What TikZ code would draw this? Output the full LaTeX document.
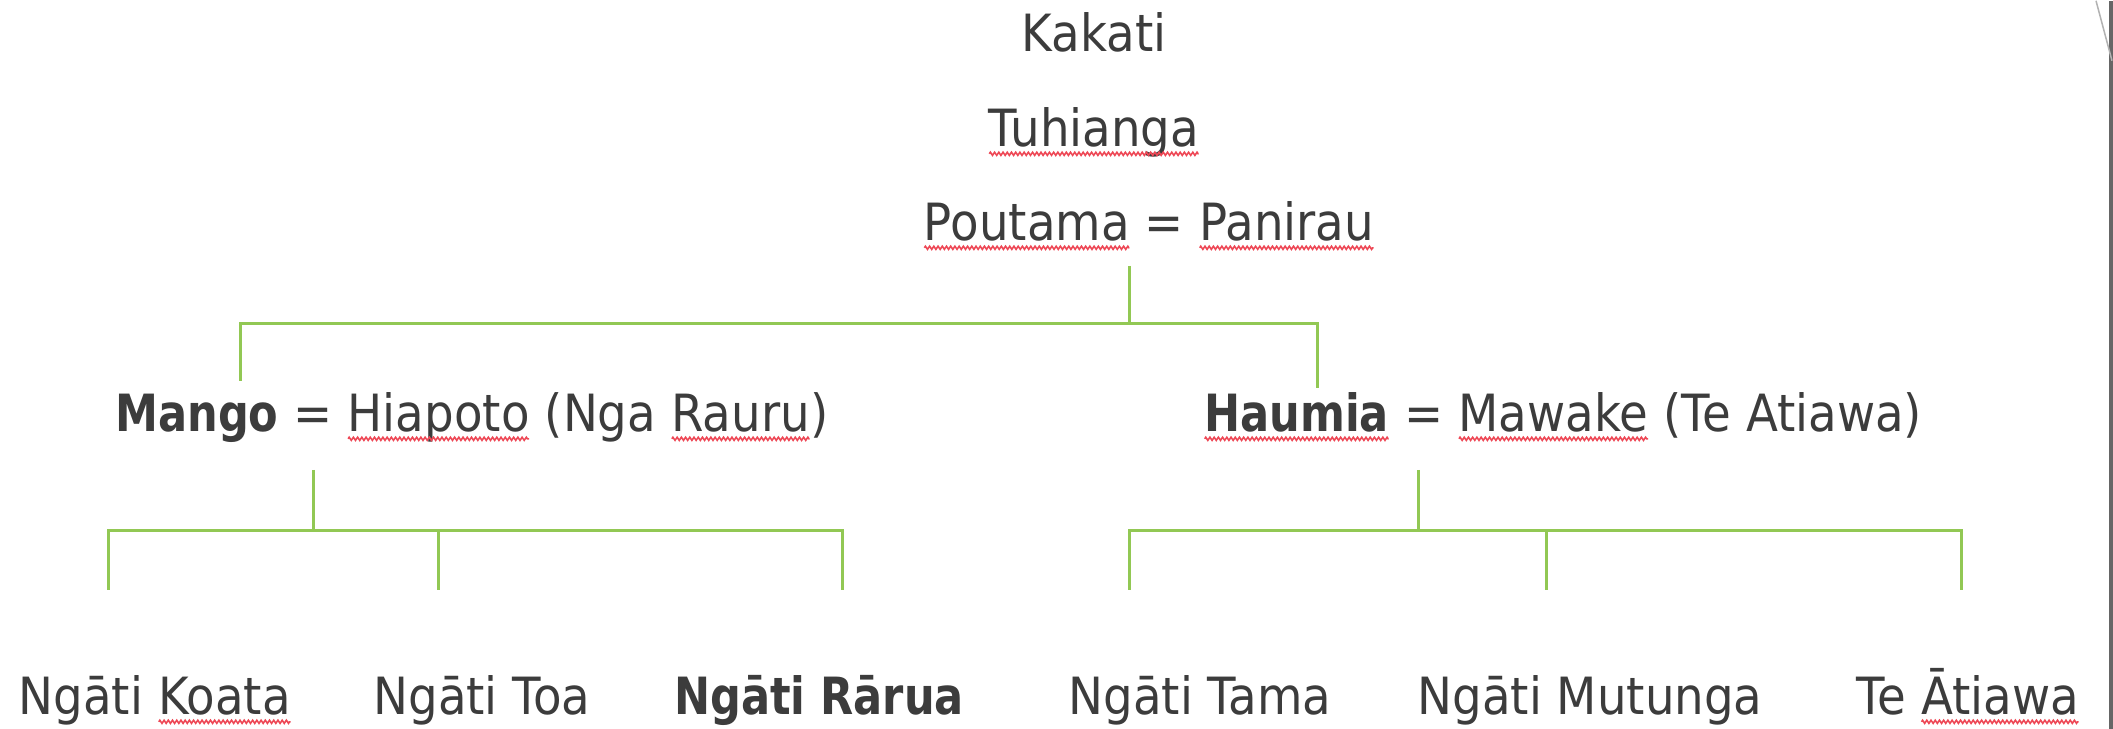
\documentclass[tikz,border=0pt]{standalone}
\usepackage{fontspec}
\setmainfont{DejaVu Sans}[FakeStretch=0.91,BoldFeatures={FakeStretch=0.84}]
\usepackage{xcolor}
\usetikzlibrary{decorations.pathmorphing}
\definecolor{kingreen}{RGB}{146,200,84}
\definecolor{spellred}{RGB}{238,72,86}
\definecolor{textgrey}{RGB}{60,60,60}
\tikzset{kinline/.style={kingreen,line width=0.3mm},
  spellmark/.style={spellred,line width=0.45pt,decorate,decoration={zigzag,segment length=1.2pt,amplitude=0.45pt}}}
\newcommand{\spell}[1]{\tikz[baseline=(w.base)]{\node[inner sep=0pt,anchor=base] (w) {#1}; \draw[spellmark] ([yshift=-2pt,xshift=0.3pt]w.base west) -- ([yshift=-2pt,xshift=-0.3pt]w.base east);}}

\begin{document}
\begin{tikzpicture}[x=0.1mm,y=-0.1mm]
\fill[white] (0,0) rectangle (2113,728);
\fill[black!60] (2109,0) rectangle (2113,728);
\draw[black!30,line width=0.15mm] (2096,0) -- (2112,60);

\begin{scope}[every node/.style={anchor=base,inner sep=0pt,text=textgrey,font=\fontsize{14.6pt}{17pt}\selectfont}]
\node (kakati) at (1094,51) {Kakati};
\node (tuhianga) at (1094,146) {\spell{Tuhianga}};
\node (poutama) at (1149,240) {\spell{Poutama} = \spell{Panirau}};
\node (mango) at (472,431) {\textbf{Mango} = \spell{Hiapoto} (Nga \spell{Rauru})};
\node (haumia) at (1563,431) {\textbf{\spell{Haumia}} = \spell{Mawake} (Te Atiawa)};
\node (koata) at (155,714) {Ngāti \spell{Koata}};
\node (toa) at (482,714) {Ngāti Toa};
\node (rarua) at (819,714) {\textbf{Ngāti Rārua}};
\node (tama) at (1200,714) {Ngāti Tama};
\node (mutunga) at (1590,714) {Ngāti Mutunga};
\node (atiawa) at (1968,714) {Te \spell{Ātiawa}};
\end{scope}

\coordinate (p1) at (1129,265);
\coordinate (j1) at (1129,323);
\coordinate (m1) at (240,380);
\coordinate (h1) at (1317,387);
\coordinate (m2) at (313,469);
\coordinate (j2) at (313,530);
\coordinate (koata t) at (108,589);
\coordinate (toa t) at (438,589);
\coordinate (rarua t) at (842,589);
\coordinate (h2) at (1418,469);
\coordinate (j3) at (1418,530);
\coordinate (tama t) at (1129,589);
\coordinate (mutunga t) at (1546,589);
\coordinate (atiawa t) at (1961,589);

\draw[kinline] (p1) -- (j1);
\draw[kinline] (m1) |- (j1) -| (h1);

\draw[kinline] (m2) -- (j2);
\draw[kinline] (koata t) |- (j2) -| (rarua t);
\draw[kinline] (toa t) -- (toa t |- j2);

\draw[kinline] (h2) -- (j3);
\draw[kinline] (tama t) |- (j3) -| (atiawa t);
\draw[kinline] (mutunga t) -- (mutunga t |- j3);
\end{tikzpicture}
\end{document}
